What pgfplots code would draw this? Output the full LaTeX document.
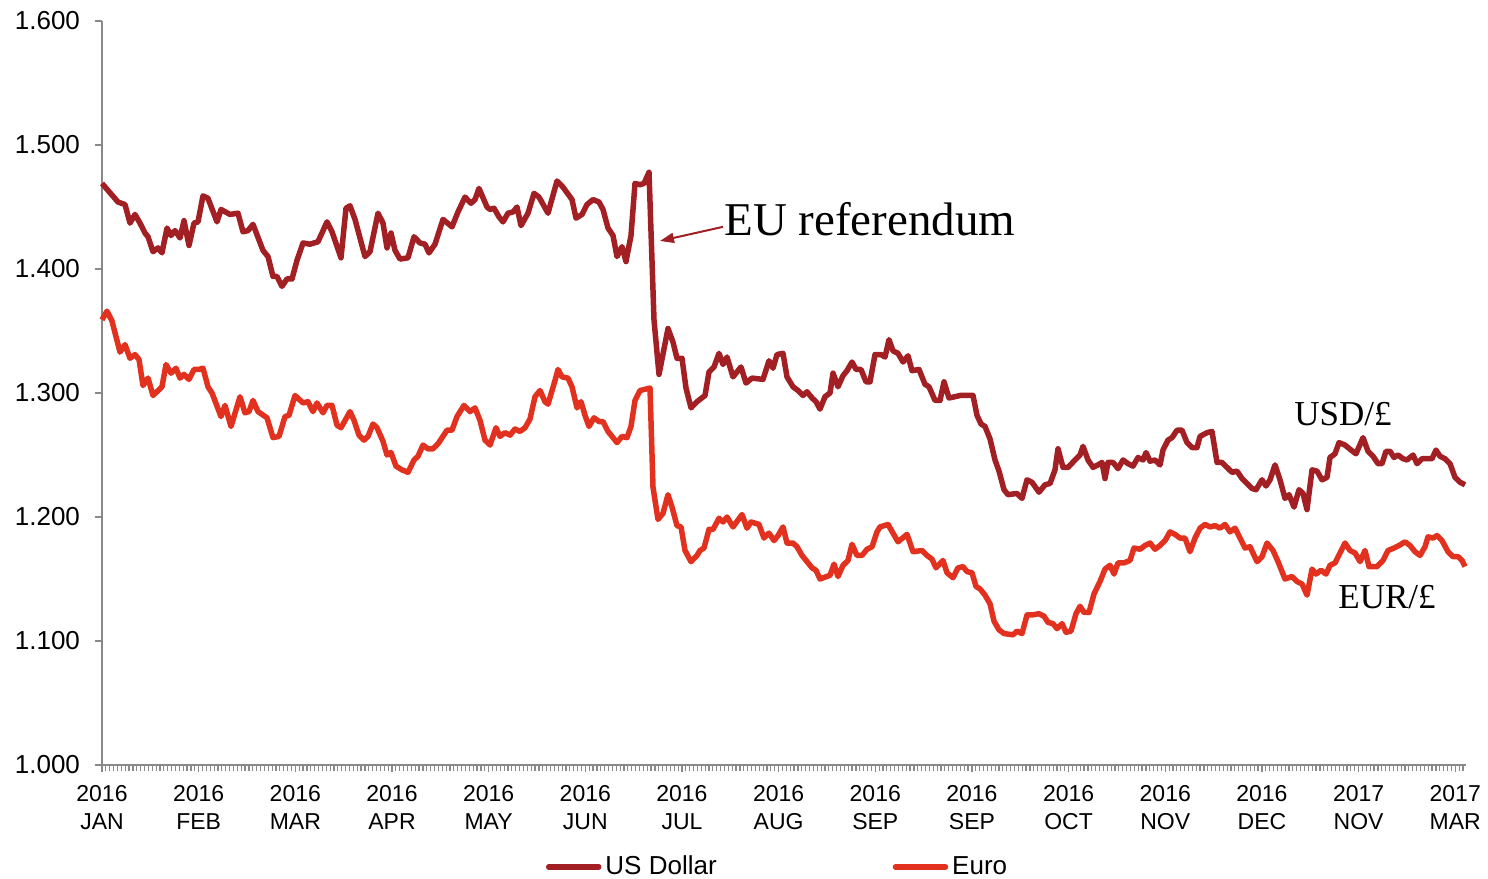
\documentclass[border=0pt]{standalone}
\usepackage{fontspec}
\setmainfont{Liberation Sans}
\newfontfamily\serifx{Liberation Serif}
\usepackage{pgfplots}
\pgfplotsset{compat=1.18}
\usetikzlibrary{arrows.meta}
\definecolor{usd}{RGB}{162,31,36}
\definecolor{eur}{RGB}{226,50,31}
\definecolor{axgray}{RGB}{137,137,137}
\begin{document}
\begin{tikzpicture}
\path[use as bounding box] (-51pt,-56.5pt) rectangle (693pt,382.5pt);
\begin{axis}[
  scale only axis, width=682pt, height=372pt,
  xmin=0, xmax=1364, ymin=1, ymax=1.6,
  clip=false,
  axis x line*=bottom, axis y line*=left,
  axis line style={axgray, line width=0.8pt},
  every tick/.style={axgray, line width=0.6pt},
  tick align=outside,
  major tick length=3.5pt, minor tick length=3pt,
  xtick={0,96.66,193.32,289.98,386.64,483.3,579.96,676.62,773.28,869.94,966.6,1063.26,1159.92,1256.58,1353.24},
  minor xtick={0,3.8664,...,1364},
  xticklabels={{2016\\JAN},{2016\\FEB},{2016\\MAR},{2016\\APR},{2016\\MAY},{2016\\JUN},{2016\\JUL},{2016\\AUG},{2016\\SEP},{2016\\SEP},{2016\\OCT},{2016\\NOV},{2016\\DEC},{2017\\NOV},{2017\\MAR}},
  xticklabel style={align=center, font=\fontsize{11.5}{14}\selectfont, yshift=-3pt},
  ytick={1,1.1,1.2,1.3,1.4,1.5,1.6},
  yticklabel style={font=\fontsize{13}{15}\selectfont, xshift=-4pt, /pgf/number format/fixed, /pgf/number format/fixed zerofill, /pgf/number format/precision=3, /pgf/number format/assume math mode=true},
  legend columns=2,
  legend style={at={(0.496,-0.137)}, anchor=center, draw=none, fill=none, font=\fontsize{13}{15}\selectfont, /tikz/every even column/.append style={column sep=86pt}},
  legend image code/.code={\draw[#1, line cap=round] (0pt,0pt) -- (25pt,0pt);},
]
\addplot[usd, line width=2.75pt, line join=round] coordinates {
(0,1.469)(16,1.454)(23,1.452)(28,1.437)(33,1.444)(38,1.437)(43,1.429)(46,1.426)(51,1.414)(56,1.417)(60,1.413)(65,1.433)(69,1.427)(73,1.431)(78,1.425)(82,1.439)(87,1.419)(92,1.437)(96,1.438)(101,1.459)(106,1.457)(115,1.438)(119,1.448)(128,1.444)(136,1.445)(141,1.430)(146,1.431)(151,1.436)(161,1.415)(166,1.410)(171,1.394)(175,1.394)(180,1.386)(185,1.392)(190,1.392)(195,1.407)(201,1.421)(208,1.420)(216,1.422)(225,1.438)(230,1.430)(239,1.409)(244,1.449)(248,1.451)(253,1.440)(263,1.410)(268,1.414)(276,1.445)(281,1.437)(285,1.417)(289,1.429)(293,1.415)(298,1.408)(306,1.409)(312,1.426)(318,1.421)(323,1.420)(327,1.413)(333,1.420)(341,1.440)(350,1.434)(356,1.446)(363,1.458)(369,1.453)(373,1.456)(377,1.465)(385,1.450)(388,1.448)(392,1.449)(397,1.442)(401,1.438)(406,1.445)(411,1.446)(415,1.450)(419,1.435)(426,1.445)(432,1.461)(437,1.458)(446,1.445)(455,1.471)(461,1.466)(470,1.456)(474,1.441)(480,1.444)(485,1.452)(491,1.456)(497,1.454)(501,1.448)(506,1.433)(511,1.427)(515,1.410)(520,1.418)(524,1.406)(529,1.427)(533,1.469)(538,1.468)(542,1.469)(547,1.478)(552,1.359)(557,1.315)(566,1.352)(571,1.341)(575,1.328)(580,1.328)(584,1.304)(589,1.288)(595,1.293)(603,1.298)(607,1.317)(612,1.321)(617,1.332)(621,1.323)(625,1.329)(631,1.313)(639,1.321)(644,1.308)(650,1.312)(661,1.311)(667,1.326)(671,1.320)(675,1.331)(681,1.332)(685,1.313)(691,1.305)(696,1.302)(701,1.298)(705,1.301)(710,1.296)(714,1.293)(718,1.287)(723,1.297)(728,1.300)(731,1.316)(736,1.305)(741,1.314)(745,1.318)(750,1.325)(754,1.319)(759,1.319)(764,1.309)(768,1.309)(773,1.331)(779,1.331)(783,1.329)(787,1.343)(791,1.334)(796,1.332)(801,1.325)(806,1.330)(810,1.318)(817,1.319)(823,1.307)(827,1.305)(833,1.294)(838,1.294)(842,1.309)(847,1.296)(853,1.297)(858,1.298)(868,1.298)(871,1.298)(875,1.282)(879,1.275)(883,1.273)(888,1.263)(893,1.246)(897,1.237)(902,1.222)(906,1.218)(915,1.219)(920,1.215)(925,1.230)(930,1.228)(937,1.220)(943,1.226)(948,1.227)(953,1.238)(956,1.255)(961,1.240)(966,1.240)(973,1.246)(978,1.250)(981,1.257)(986,1.246)(991,1.240)(996,1.242)(1000,1.244)(1003,1.231)(1006,1.244)(1011,1.244)(1016,1.239)(1021,1.246)(1026,1.243)(1031,1.241)(1036,1.248)(1041,1.246)(1044,1.252)(1048,1.245)(1053,1.246)(1058,1.242)(1061,1.254)(1066,1.262)(1070,1.264)(1075,1.270)(1080,1.270)(1085,1.260)(1090,1.256)(1095,1.256)(1098,1.265)(1105,1.268)(1110,1.269)(1115,1.244)(1120,1.244)(1125,1.240)(1130,1.236)(1135,1.237)(1140,1.231)(1145,1.227)(1150,1.223)(1154,1.222)(1160,1.230)(1164,1.225)(1168,1.230)(1173,1.242)(1178,1.230)(1183,1.215)(1187,1.218)(1192,1.208)(1197,1.222)(1201,1.219)(1205,1.206)(1210,1.238)(1215,1.237)(1220,1.230)(1225,1.232)(1228,1.248)(1233,1.251)(1237,1.260)(1243,1.258)(1249,1.254)(1254,1.251)(1261,1.264)(1266,1.253)(1271,1.249)(1276,1.243)(1280,1.243)(1284,1.253)(1288,1.253)(1292,1.248)(1296,1.250)(1301,1.247)(1305,1.246)(1311,1.250)(1315,1.243)(1320,1.247)(1325,1.247)(1330,1.247)(1334,1.254)(1338,1.249)(1343,1.247)(1348,1.243)(1353,1.232)(1358,1.228)(1363,1.226)
};
\addlegendentry{US Dollar}
\addplot[eur, line width=2.75pt, line join=round] coordinates {
(0,1.359)(5,1.366)(10,1.358)(18,1.333)(23,1.339)(28,1.328)(33,1.331)(37,1.327)(41,1.306)(46,1.312)(51,1.298)(60,1.305)(64,1.323)(69,1.316)(74,1.320)(78,1.312)(82,1.315)(87,1.311)(92,1.319)(97,1.319)(101,1.320)(106,1.305)(110,1.300)(119,1.281)(123,1.290)(129,1.273)(138,1.297)(143,1.284)(147,1.285)(151,1.294)(156,1.285)(165,1.280)(171,1.264)(177,1.265)(183,1.281)(187,1.282)(193,1.298)(201,1.292)(206,1.293)(211,1.285)(215,1.292)(221,1.284)(225,1.290)(230,1.290)(235,1.274)(239,1.272)(248,1.285)(252,1.278)(257,1.266)(262,1.262)(266,1.265)(271,1.275)(275,1.272)(281,1.261)(285,1.250)(289,1.252)(294,1.241)(300,1.238)(306,1.236)(312,1.246)(316,1.249)(321,1.258)(326,1.255)(331,1.255)(336,1.259)(345,1.270)(350,1.270)(355,1.281)(362,1.290)(368,1.285)(373,1.288)(378,1.278)(383,1.262)(388,1.258)(394,1.272)(398,1.265)(403,1.268)(408,1.266)(413,1.271)(418,1.269)(423,1.272)(428,1.279)(433,1.297)(438,1.302)(443,1.293)(446,1.291)(453,1.310)(456,1.319)(460,1.313)(466,1.312)(470,1.305)(475,1.288)(479,1.293)(483,1.282)(487,1.273)(492,1.280)(497,1.277)(501,1.277)(506,1.269)(510,1.265)(515,1.260)(520,1.265)(525,1.264)(529,1.273)(533,1.294)(538,1.302)(543,1.303)(548,1.304)(551,1.224)(556,1.198)(561,1.203)(566,1.218)(570,1.208)(575,1.193)(579,1.192)(583,1.173)(589,1.164)(595,1.169)(598,1.173)(602,1.175)(607,1.190)(611,1.190)(617,1.199)(621,1.196)(625,1.200)(631,1.192)(640,1.202)(645,1.191)(649,1.196)(657,1.194)(662,1.183)(667,1.187)(672,1.181)(676,1.185)(681,1.192)(685,1.179)(691,1.179)(695,1.176)(700,1.169)(705,1.164)(710,1.159)(714,1.157)(718,1.150)(728,1.153)(732,1.162)(736,1.152)(741,1.161)(746,1.165)(750,1.178)(755,1.169)(760,1.169)(765,1.174)(770,1.176)(775,1.188)(778,1.192)(786,1.194)(791,1.187)(796,1.180)(805,1.186)(811,1.172)(820,1.173)(825,1.169)(830,1.166)(834,1.159)(841,1.165)(845,1.155)(851,1.151)(856,1.159)(861,1.160)(865,1.156)(870,1.155)(874,1.144)(878,1.142)(883,1.137)(888,1.130)(892,1.116)(897,1.109)(902,1.106)(911,1.105)(915,1.108)(920,1.106)(925,1.121)(930,1.121)(937,1.122)(942,1.120)(946,1.115)(951,1.114)(955,1.110)(960,1.114)(964,1.107)(969,1.108)(974,1.122)(978,1.128)(982,1.123)(987,1.123)(992,1.138)(998,1.148)(1003,1.158)(1008,1.161)(1012,1.154)(1016,1.163)(1022,1.163)(1028,1.165)(1032,1.175)(1038,1.174)(1043,1.177)(1048,1.179)(1053,1.174)(1058,1.177)(1063,1.181)(1068,1.188)(1073,1.186)(1078,1.183)(1083,1.183)(1088,1.172)(1093,1.183)(1098,1.191)(1103,1.194)(1108,1.192)(1113,1.193)(1118,1.191)(1123,1.194)(1128,1.188)(1133,1.191)(1138,1.183)(1143,1.175)(1148,1.176)(1155,1.164)(1160,1.168)(1165,1.179)(1171,1.173)(1176,1.164)(1183,1.150)(1190,1.152)(1195,1.148)(1200,1.146)(1205,1.137)(1210,1.158)(1214,1.154)(1219,1.157)(1224,1.154)(1228,1.161)(1233,1.163)(1238,1.171)(1243,1.179)(1248,1.173)(1253,1.171)(1258,1.164)(1263,1.173)(1267,1.160)(1275,1.160)(1281,1.165)(1286,1.173)(1292,1.175)(1297,1.177)(1303,1.180)(1308,1.177)(1313,1.172)(1318,1.169)(1323,1.176)(1326,1.184)(1331,1.183)(1335,1.185)(1340,1.181)(1346,1.172)(1351,1.168)(1356,1.168)(1360,1.165)(1363,1.160)
};
\addlegendentry{Euro}
\draw[usd, line width=1pt, -{Triangle[length=7pt,width=5pt]}] (axis cs:621,1.434) -- (axis cs:558,1.4226);
\node[anchor=west, inner sep=0pt, font=\serifx\fontsize{23.5}{27}\selectfont] at (axis cs:622,1.4403) {EU referendum};
\node[inner sep=0pt, font=\serifx\fontsize{17.5}{20}\selectfont] at (axis cs:1241,1.283) {USD/£};
\node[inner sep=0pt, font=\serifx\fontsize{17.5}{20}\selectfont] at (axis cs:1285,1.1355) {EUR/£};
\end{axis}
\end{tikzpicture}
\end{document}
